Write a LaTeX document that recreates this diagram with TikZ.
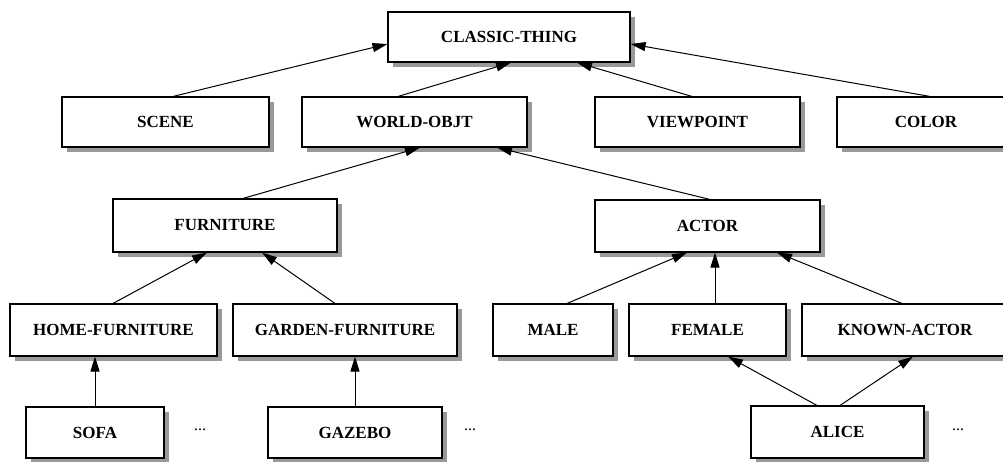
\documentclass[tikz,border=0pt]{standalone}
\usepackage{fontspec}
\newfontfamily\boxfont{Liberation Serif}
\usetikzlibrary{arrows.meta,shadows}
\tikzset{
  box/.style={draw, line width=1.1pt, fill=white, inner sep=0pt, anchor=center,
    font=\boxfont\bfseries\fontsize{17}{17}\selectfont,
    drop shadow={shadow xshift=5pt, shadow yshift=-5pt, fill=black!40, opacity=1}},
  isa/.style={line width=1pt, -{Triangle[length=15pt,width=9pt]}},
  dots/.style={font=\boxfont\fontsize{16}{16}\selectfont, inner sep=0pt}
}
\begin{document}
\begin{tikzpicture}[x=1pt,y=-1pt]
\useasboundingbox (0,0) rectangle (1003,462);
\clip (0,0) rectangle (1003,462);
\fill[white] (0,0) rectangle (1003,462);
% level 0
\node[box, minimum width=242pt, minimum height=50pt] (ct) at (509,37) {CLASSIC-THING};
% level 1
\node[box, minimum width=207pt, minimum height=50pt] (scene) at (165.5,122) {SCENE};
\node[box, minimum width=225pt, minimum height=50pt] (world) at (414.5,122) {WORLD-OBJT};
\node[box, minimum width=205pt, minimum height=50pt] (view) at (697.5,122) {VIEWPOINT};
\node[box, minimum width=178pt, minimum height=50pt] (color) at (926,122) {COLOR};
% level 2
\node[box, minimum width=224pt, minimum height=53pt] (furn) at (225,225.5) {FURNITURE};
\node[box, minimum width=225pt, minimum height=52pt] (actor) at (707.5,226) {ACTOR};
% level 3
\node[box, minimum width=207pt, minimum height=52pt] (home) at (113.5,330) {HOME-FURNITURE};
\node[box, minimum width=224pt, minimum height=52pt] (garden) at (345,330) {GARDEN-FURNITURE};
\node[box, minimum width=120pt, minimum height=52pt] (male) at (553,330) {MALE};
\node[box, minimum width=157pt, minimum height=52pt] (female) at (707.5,330) {FEMALE};
\node[box, minimum width=206pt, minimum height=52pt] (known) at (905,330) {KNOWN-ACTOR};
% level 4
\node[box, minimum width=138pt, minimum height=51pt] (sofa) at (95,432.5) {SOFA};
\node[box, minimum width=174pt, minimum height=51pt] (gazebo) at (355,432.5) {GAZEBO};
\node[box, minimum width=173pt, minimum height=52pt] (alice) at (837.5,432) {ALICE};
\node[dots] (d1) at (200,430) {...};
\node[dots] (d2) at (470,430) {...};
\node[dots] (d3) at (958,430) {...};
% connectors
\draw[isa] ([xshift=7.5pt]scene.north) -- ([yshift=-7pt]ct.west);
\draw[isa] ([xshift=-16.5pt]world.north) -- ([xshift=2pt]ct.south);
\draw[isa] ([xshift=-5.5pt]view.north) -- ([xshift=68pt]ct.south);
\draw[isa] ([xshift=4pt]color.north) -- ([yshift=-7pt]ct.east);
\draw[isa] ([xshift=18pt]furn.north) -- ([xshift=5.5pt]world.south);
\draw[isa] ([xshift=2.5pt]actor.north) -- ([xshift=82.5pt]world.south);
\draw[isa] ([xshift=-0.5pt]home.north) -- ([xshift=-18pt]furn.south);
\draw[isa] ([xshift=-10pt]garden.north) -- ([xshift=37pt]furn.south);
\draw[isa] ([xshift=14pt]male.north) -- ([xshift=-20.5pt]actor.south);
\draw[isa] ([xshift=7.5pt]female.north) -- ([xshift=7.5pt]actor.south);
\draw[isa] ([xshift=-3pt]known.north) -- ([xshift=69.5pt]actor.south);
\draw[isa] (sofa.north) -- ([xshift=-18.5pt]home.south);
\draw[isa] (gazebo.north) -- ([xshift=10pt]garden.south);
\draw[isa] ([xshift=-20.5pt]alice.north) -- ([xshift=20.5pt]female.south);
\draw[isa] ([xshift=2.5pt]alice.north) -- ([xshift=8pt]known.south);
\end{tikzpicture}
\end{document}
